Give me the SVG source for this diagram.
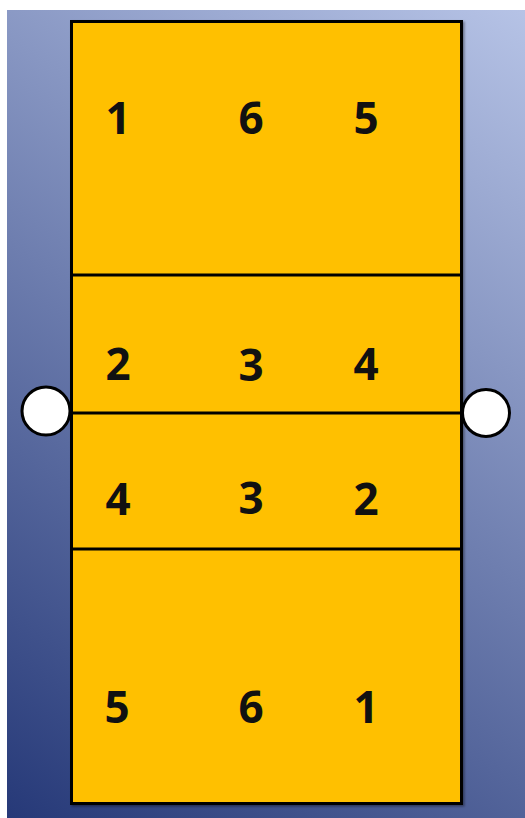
<svg xmlns="http://www.w3.org/2000/svg" width="525" height="818" viewBox="0 0 525 818">
  <defs>
    <linearGradient id="bg" gradientUnits="userSpaceOnUse" x1="7" y1="818" x2="541" y2="20">
      <stop offset="0" stop-color="#263978"/>
      <stop offset="1" stop-color="#b6c3e6"/>
    </linearGradient>
    <filter id="sh" x="-5%" y="-5%" width="110%" height="110%">
      <feDropShadow dx="1.5" dy="1.5" stdDeviation="1" flood-color="#000" flood-opacity="0.4"/>
    </filter>
  </defs>
  <style>
    .num { font-family: "Open Sans", "Liberation Sans", sans-serif; font-weight: bold; font-size: 44px; fill: #111; text-anchor: middle; }
    .line { stroke: #000; stroke-width: 3; fill: none; }
    .post { fill: #fff; stroke: #000; stroke-width: 3; }
  </style>
  <rect x="7" y="10" width="518" height="808" fill="url(#bg)"/>
  <g id="court">
    <rect x="71.5" y="21.5" width="390" height="782" fill="#FFC000" stroke="#000" stroke-width="3" filter="url(#sh)"/>
  </g>
  <g id="connectors">
    <line class="line" x1="71.5" y1="275" x2="461.5" y2="275"/>
    <line class="line" x1="71.5" y1="413" x2="461.5" y2="413"/>
    <line class="line" x1="71.5" y1="549" x2="461.5" y2="549"/>
  </g>
  <g id="post-left"><circle class="post" cx="46" cy="411" r="24"/></g>
  <g id="post-right"><circle class="post" cx="486" cy="413" r="23.5"/></g>
  <g id="row1">
    <text class="num" x="118" y="134">1</text>
    <text class="num" x="251" y="134">6</text>
    <text class="num" x="366" y="134">5</text>
  </g>
  <g id="row2">
    <text class="num" x="118" y="380">2</text>
    <text class="num" x="251" y="381">3</text>
    <text class="num" x="366" y="380">4</text>
  </g>
  <g id="row3">
    <text class="num" x="118" y="515">4</text>
    <text class="num" x="251" y="514">3</text>
    <text class="num" x="366" y="515">2</text>
  </g>
  <g id="row4">
    <text class="num" x="117" y="723">5</text>
    <text class="num" x="251" y="723">6</text>
    <text class="num" x="366" y="723">1</text>
  </g>
</svg>
